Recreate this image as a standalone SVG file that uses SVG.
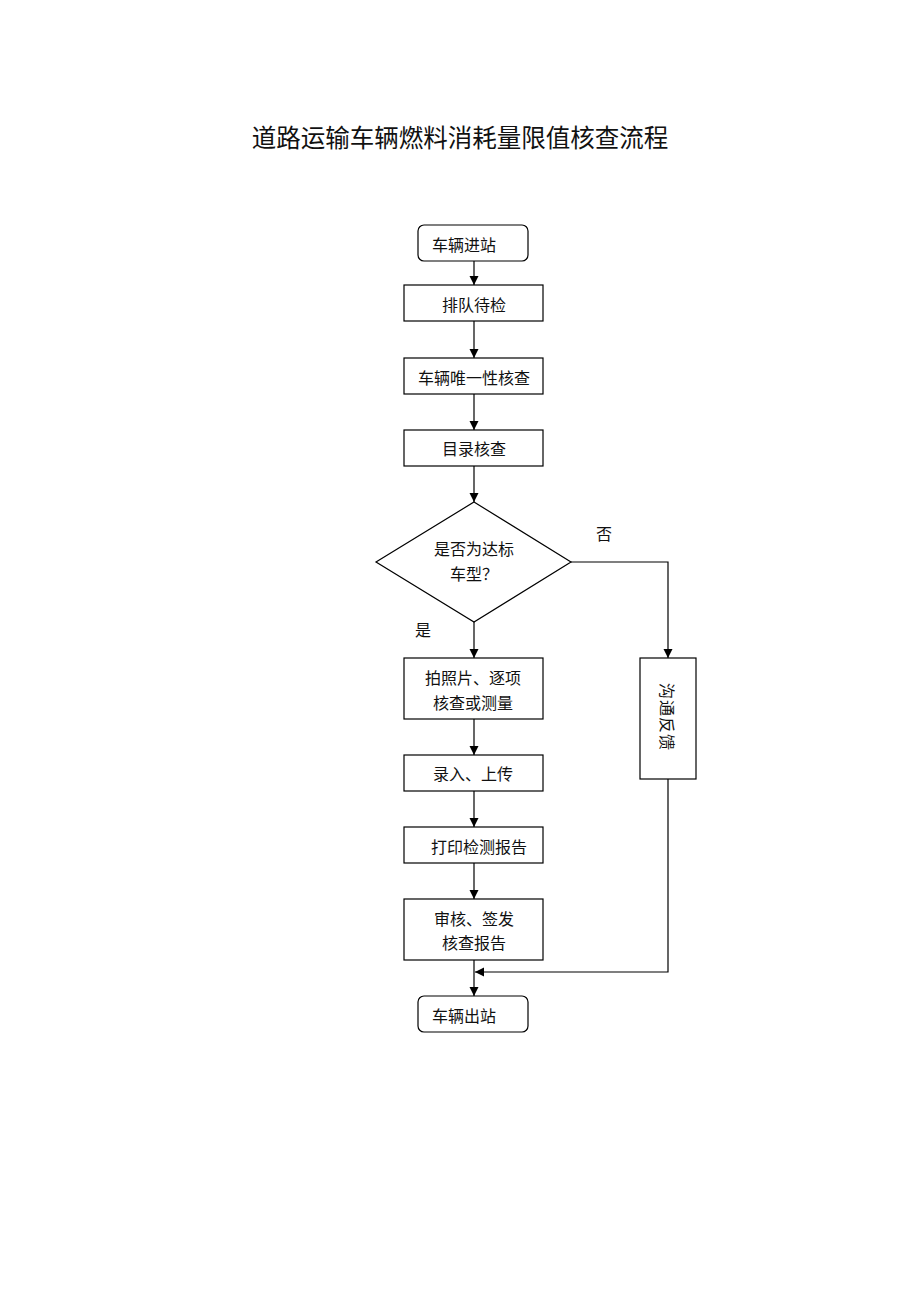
<svg xmlns="http://www.w3.org/2000/svg" width="920" height="1302" viewBox="0 0 920 1302">
<style>
text{font-family:"Noto Sans CJK SC","Liberation Serif",sans-serif;fill:#111;font-size:16px;dominant-baseline:central}
.c{text-anchor:middle}
.box{fill:#fff;stroke:#000;stroke-width:1.2}
.ln{fill:none;stroke:#000;stroke-width:1.2}
</style>
<defs>
<marker id="ah" viewBox="0 0 10 10" refX="10" refY="5" markerWidth="9" markerHeight="10" markerUnits="userSpaceOnUse" orient="auto">
<path d="M0,0 L10,5 L0,10 Z" fill="#000"/>
</marker>
</defs>
<rect width="920" height="1302" fill="#fff"/>
<text id="title" x="460" y="136" class="c" style="font-size:24.5px">道路运输车辆燃料消耗量限值核查流程</text>

<g id="connectors">
<line class="ln" x1="474" y1="261" x2="474" y2="285" marker-end="url(#ah)"/>
<line class="ln" x1="474" y1="321" x2="474" y2="358" marker-end="url(#ah)"/>
<line class="ln" x1="474" y1="394" x2="474" y2="430" marker-end="url(#ah)"/>
<line class="ln" x1="474" y1="466" x2="474" y2="502" marker-end="url(#ah)"/>
<line class="ln" x1="474" y1="622" x2="474" y2="658" marker-end="url(#ah)"/>
<polyline class="ln" points="571,562 668,562 668,658" marker-end="url(#ah)"/>
<line class="ln" x1="474" y1="719" x2="474" y2="755" marker-end="url(#ah)"/>
<line class="ln" x1="474" y1="791" x2="474" y2="827" marker-end="url(#ah)"/>
<line class="ln" x1="474" y1="863" x2="474" y2="899" marker-end="url(#ah)"/>
<line class="ln" x1="474" y1="960" x2="474" y2="996" marker-end="url(#ah)"/>
<polyline class="ln" points="668,779 668,972 475,972" marker-end="url(#ah)"/>
<text x="604" y="533" class="c">否</text>
<text x="423" y="629" class="c">是</text>
</g>

<g id="n_start">
<rect class="box" x="418" y="225" width="110" height="36" rx="6"/>
<text x="432" y="244">车辆进站</text>
</g>
<g id="n_queue">
<rect class="box" x="404" y="285" width="139" height="36"/>
<text x="474" y="304" class="c">排队待检</text>
</g>
<g id="n_unique">
<rect class="box" x="404" y="358" width="139" height="36"/>
<text x="474" y="377" class="c">车辆唯一性核查</text>
</g>
<g id="n_catalog">
<rect class="box" x="404" y="430" width="139" height="36"/>
<text x="474" y="448" class="c">目录核查</text>
</g>
<g id="n_decision">
<polygon class="box" points="474,502 571,562 474,622 376,562"/>
<text x="474" y="548" class="c">是否为达标</text>
<text x="474" y="573" class="c">车型？</text>
</g>
<g id="n_photo">
<rect class="box" x="404" y="658" width="139" height="61"/>
<text x="473" y="677" class="c">拍照片、逐项</text>
<text x="473" y="702" class="c">核查或测量</text>
</g>
<g id="n_upload">
<rect class="box" x="404" y="755" width="139" height="36"/>
<text x="473" y="773" class="c">录入、上传</text>
</g>
<g id="n_print">
<rect class="box" x="404" y="827" width="139" height="36"/>
<text x="479" y="846" class="c">打印检测报告</text>
</g>
<g id="n_review">
<rect class="box" x="404" y="899" width="139" height="61"/>
<text x="474" y="918" class="c">审核、签发</text>
<text x="474" y="942" class="c">核查报告</text>
</g>
<g id="n_end">
<rect class="box" x="418" y="996" width="110" height="36" rx="6"/>
<text x="432" y="1015">车辆出站</text>
</g>
<g id="n_feedback">
<rect class="box" x="640" y="658" width="56" height="121"/>
<text x="0" y="0" class="c" style="letter-spacing:1px" transform="translate(668,717) rotate(90)">沟通反馈</text>
</g>
</svg>
